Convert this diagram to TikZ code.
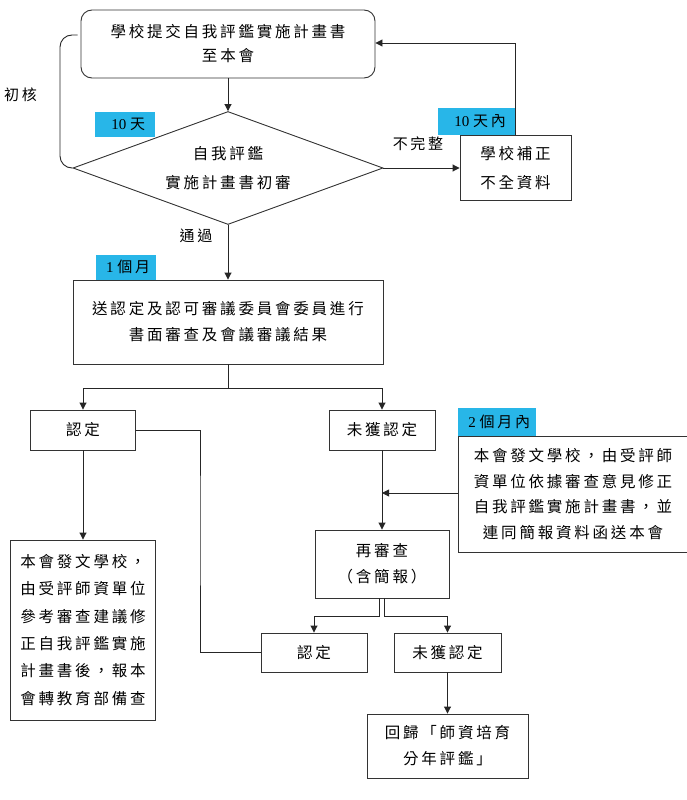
\documentclass[tikz,border=0pt]{standalone}
\usepackage{fontspec}
\setmainfont{Liberation Serif}
\newfontfamily\cjk[LetterSpace=18]{Noto Sans CJK TC}
\usetikzlibrary{shapes.geometric,arrows.meta,calc}
\definecolor{tagcyan}{RGB}{40,182,232}
\tikzset{
  box/.style={draw=black!80, line width=0.9pt, inner sep=0pt, align=center, font=\cjk\fontsize{15.5}{24}\selectfont},
  tag/.style={fill=tagcyan, inner sep=0pt, anchor=south west, font=\fontsize{15}{16}\selectfont},
  lbl/.style={font=\cjk\fontsize{15}{16}\selectfont, inner sep=0pt},
  conn/.style={line width=0.9pt, draw=black!85},
  arr/.style={conn, -{Triangle[length=7pt,width=7pt]}},
}
\begin{document}
\begin{tikzpicture}[x=1pt,y=-1pt]
\useasboundingbox (0,0) rectangle (686,800);
% nodes
\node[box, rounded corners=11pt, minimum width=294pt, minimum height=68pt] (top) at (228,44) {學校提交自我評鑑實施計畫書\\至本會};
\node[box, shape=diamond, aspect=2.74, minimum width=310pt, minimum height=113pt, font=\cjk\fontsize{15.5}{29}\selectfont] (dia) at (228,168) {自我評鑑\\實施計畫書初審};
\node[box, minimum width=111pt, minimum height=65pt, font=\cjk\fontsize{15.5}{29}\selectfont] (fix) at (515.5,168) {學校補正\\不全資料};
\node[box, minimum width=310pt, minimum height=84pt, font=\cjk\fontsize{15.5}{26}\selectfont] (big) at (228,322) {送認定及認可審議委員會委員進行\\書面審查及會議審議結果};
\node[box, minimum width=105pt, minimum height=40pt] (rd1) at (83,430) {認定};
\node[box, minimum width=106pt, minimum height=40pt] (nr1) at (382,430) {未獲認定};
\node[box, minimum width=145pt, minimum height=180pt, align=left, font=\cjk\fontsize{15.5}{27.3}\selectfont] (lt) at (83,630) {本會發文學校，\\由受評師資單位\\參考審查建議修\\正自我評鑑實施\\計畫書後，報本\\會轉教育部備查};
\node[box, minimum width=230pt, minimum height=116pt, font=\cjk\fontsize{15.5}{25.5}\selectfont] (rt) at (573,494) {本會發文學校，由受評師\\資單位依據審查意見修正\\自我評鑑實施計畫書，並\\連同簡報資料函送本會};
\node[box, minimum width=134pt, minimum height=68pt, font=\cjk\fontsize{15.5}{26}\selectfont] (re) at (382,564) {再審查\\（含簡報）};
\node[box, minimum width=106pt, minimum height=39pt] (rd2) at (314,652.5) {認定};
\node[box, minimum width=107pt, minimum height=39pt] (nr2) at (447.5,652.5) {未獲認定};
\node[box, minimum width=161pt, minimum height=64pt, font=\cjk\fontsize{15.5}{26}\selectfont] (back) at (447.5,746) {回歸「師資培育\\分年評鑑」};
% tags
\node[tag, minimum width=60pt, minimum height=25pt] (t1) at (95,137) {\hspace*{6pt}10 {\cjk 天}\hfill};
\node[tag, minimum width=78pt, minimum height=27pt] (t2) at (438,135) {\hspace*{6pt}10 {\cjk 天內}\hfill};
\node[tag, minimum width=60pt, minimum height=25pt] (t3) at (96,280) {\hspace*{4pt}1 {\cjk 個月}\hfill};
\node[tag, minimum width=78pt, minimum height=28pt] (t4) at (458,436) {\hspace*{4pt}2 {\cjk 個月內}\hfill};
% labels
\node[lbl] (l1) at (418,144) {不完整};
\node[lbl] (l2) at (196,236) {通過};
\node[lbl, anchor=east] (l3) at (37,95) {初核};
% connectors
\draw[arr] (top) -- (dia);
\draw[arr] (dia.east) -- (fix.west);
\draw[arr] (fix.north) -- (fix.north |- 0,43) -- (top.east |- 0,43);
\draw[conn, rounded corners=12pt] ($(top.west)+(-3,-9)$) -- (60,35) -- (60,168) -- (dia.west);
\draw[arr] (dia.south) -- (big.north);
\coordinate (split) at (228,388);
\draw[conn] (big.south) -- (split);
\draw[arr] (split) -| (rd1.north);
\draw[arr] (split) -| (nr1.north);
\draw[arr] (rd1.south) -- (lt.north);
\draw[conn] (rd1.east) -| (200,520) |- (rd2.west);
\draw[arr] (nr1.south) -- (re.north);
\coordinate (mid) at (382,493);
\draw[arr] (rt.west |- mid) -- (mid);
\draw[arr] ($(re.south)+(-2.5,0)$) -- (379.5,616) -| (rd2.north);
\draw[arr] ($(re.south)+(2.5,0)$) -- (384.5,616) -| (nr2.north);
\draw[arr] (nr2.south) -- (back.north);
\end{tikzpicture}
\end{document}
